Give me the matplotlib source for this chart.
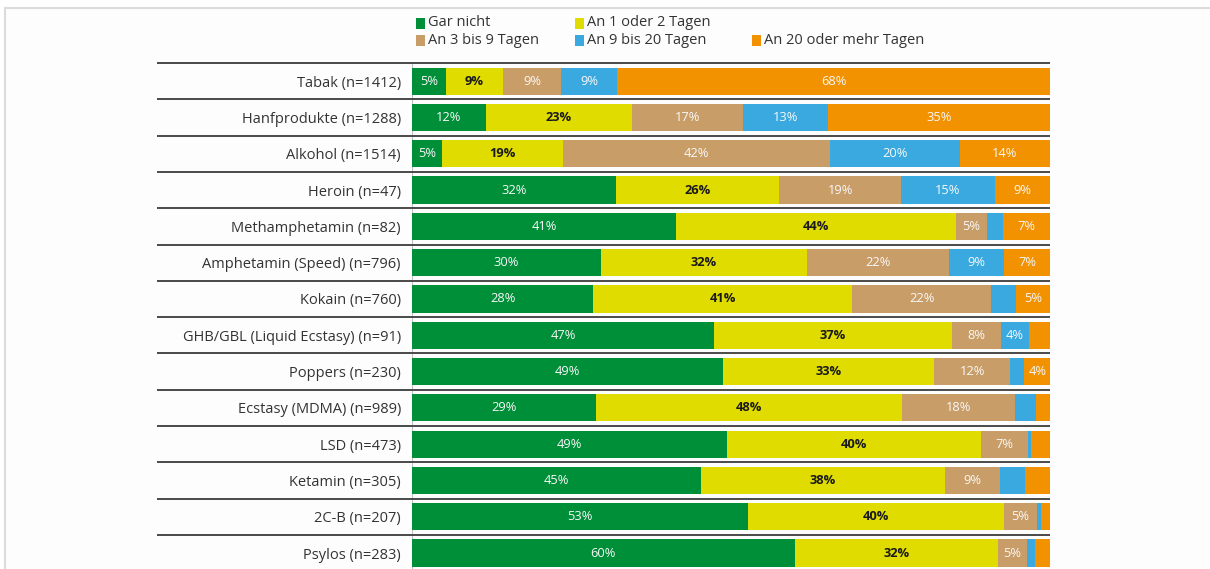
import matplotlib
matplotlib.use("Agg")
import matplotlib.pyplot as plt
from matplotlib.patches import Rectangle

plt.rcParams['font.family'] = ['Open Sans', 'DejaVu Sans']

categories = ["Tabak (n=1412)", "Hanfprodukte (n=1288)", "Alkohol (n=1514)", "Heroin (n=47)",
              "Methamphetamin (n=82)", "Amphetamin (Speed) (n=796)", "Kokain (n=760)",
              "GHB/GBL (Liquid Ecstasy) (n=91)", "Poppers (n=230)", "Ecstasy (MDMA) (n=989)",
              "LSD (n=473)", "Ketamin (n=305)", "2C-B (n=207)", "Psylos (n=283)"]

series_names = ["Gar nicht", "An 1 oder 2 Tagen", "An 3 bis 9 Tagen",
                "An 9 bis 20 Tagen", "An 20 oder mehr Tagen"]

gar_nicht = [5.4, 11.6, 4.7, 32.0, 41.4, 29.6, 28.4, 47.3, 48.7, 28.8, 49.4, 45.3, 52.7, 60.0]
tage_1_2 = [8.8, 22.9, 19.0, 25.6, 43.8, 32.3, 40.6, 37.3, 33.1, 48.0, 39.8, 38.2, 40.1, 31.8]
tage_3_9 = [9.2, 17.4, 41.8, 19.0, 5.0, 22.3, 21.8, 7.7, 12.0, 17.7, 7.4, 8.7, 5.2, 4.6]
tage_9_20 = [8.8, 13.3, 20.4, 14.8, 2.4, 8.6, 3.8, 4.4, 2.2, 3.3, 0.5, 3.9, 0.6, 1.3]
tage_20_plus = [67.8, 34.8, 14.1, 8.6, 7.4, 7.2, 5.4, 3.3, 4.0, 2.2, 2.9, 3.9, 1.4, 2.3]

series = [gar_nicht, tage_1_2, tage_3_9, tage_9_20, tage_20_plus]
colors = ["#008F39", "#E0DC00", "#C99D68", "#3AA9E0", "#F39200"]
label_colors = ["#f8f8f8", "#1a1a1a", "#f8f8f8", "#f8f8f8", "#f8f8f8"]
label_weights = ["normal", "bold", "normal", "normal", "normal"]

W, H = 1210, 569
fig = plt.figure(figsize=(W / 100, H / 100), dpi=100)
fig.patch.set_facecolor("white")

# outer frame
fig.patches.append(Rectangle((5 / W, -0.05), 1.1, 1 - 8 / H + 0.05, transform=fig.transFigure,
                             facecolor="#fdfdfd", edgecolor="#dcdcdc", lw=1.5, zorder=-5))

left, right = 412 / W, 1050 / W
top_px, row_px = 63, 36.3
bottom_px = top_px + 14 * row_px
ax = fig.add_axes([left, 1 - bottom_px / H, right - left, (bottom_px - top_px) / H])
ax.set_facecolor("none")
ax.set_zorder(2)

n = len(categories)
ypos = list(range(n))
starts = [0.0] * n
for vals, col, lc, lw_ in zip(series, colors, label_colors, label_weights):
    ax.barh(ypos, vals, left=starts, height=0.75, color=col, edgecolor="none", zorder=2)
    for i, v in enumerate(vals):
        if v >= 3.95:
            ax.text(starts[i] + v / 2, i, f"{round(v)}%", ha="center", va="center",
                    color=lc, fontsize=9.3, fontweight=lw_, zorder=3)
    starts = [s + v for s, v in zip(starts, vals)]

ax.set_xlim(0, 100)
ax.set_ylim(n - 0.5, -0.5)
ax.set_yticks(ypos)
ax.set_yticklabels(categories, fontsize=10.5, color="#333333")
ax.tick_params(axis="y", length=0, pad=8)
ax.set_xticks([])
for s in ax.spines.values():
    s.set_visible(False)

ax.axvline(0, color="#c0c0c0", lw=0.8, zorder=1)
xmin = (157 - 412) / (1050 - 412)
for i in range(n):
    ax.plot([xmin * 100, 100], [i - 0.5, i - 0.5], color="#4a4a4a", lw=1.4,
            clip_on=False, zorder=1, solid_capstyle="butt")

# legend (manual)
leg_pos = [(416, 23), (575, 23), (416, 40), (575, 40), (752, 40)]
for name, col, (lx, ly) in zip(series_names, colors, leg_pos):
    fig.patches.append(Rectangle((lx / W, 1 - (ly + 6) / H), 9 / W, 11 / H,
                                 transform=fig.transFigure, facecolor=col, edgecolor="none"))
    fig.text((lx + 12) / W, 1 - ly / H, name, fontsize=10.5, color="#333333",
             ha="left", va="center")

fig.savefig("out.png", dpi=100, facecolor=fig.get_facecolor())
